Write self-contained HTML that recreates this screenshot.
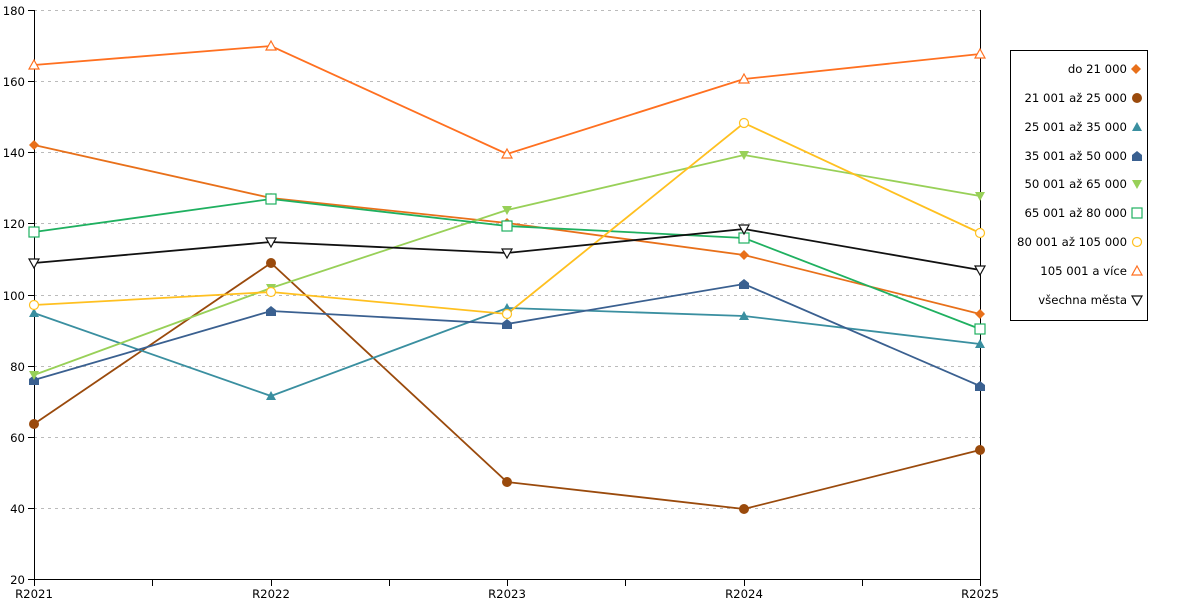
<!DOCTYPE html>
<html><head><meta charset="utf-8"><style>body{margin:0;background:#fff}svg{display:block;font-family:"DejaVu Sans","Liberation Sans",sans-serif}</style></head><body>
<svg width="1200" height="600" viewBox="0 0 1200 600" xmlns="http://www.w3.org/2000/svg">
<g stroke="#bbb" stroke-dasharray="3,4" stroke-width="1">
<line x1="34" x2="980" y1="10.5" y2="10.5"/><line x1="34" x2="980" y1="81.5" y2="81.5"/><line x1="34" x2="980" y1="152.5" y2="152.5"/><line x1="34" x2="980" y1="223.5" y2="223.5"/><line x1="34" x2="980" y1="295.5" y2="295.5"/><line x1="34" x2="980" y1="366.5" y2="366.5"/><line x1="34" x2="980" y1="437.5" y2="437.5"/><line x1="34" x2="980" y1="508.5" y2="508.5"/>
</g>
<g stroke="#000" stroke-width="1">
<line x1="34.5" y1="10" x2="34.5" y2="580"/><line x1="980.5" y1="10" x2="980.5" y2="586"/><line x1="34" y1="579.5" x2="981" y2="579.5"/>
<line x1="28" x2="34" y1="10.5" y2="10.5"/><line x1="28" x2="34" y1="81.5" y2="81.5"/><line x1="28" x2="34" y1="152.5" y2="152.5"/><line x1="28" x2="34" y1="223.5" y2="223.5"/><line x1="28" x2="34" y1="295.5" y2="295.5"/><line x1="28" x2="34" y1="366.5" y2="366.5"/><line x1="28" x2="34" y1="437.5" y2="437.5"/><line x1="28" x2="34" y1="508.5" y2="508.5"/><line x1="28" x2="34" y1="579.5" y2="579.5"/>
<line x1="34.5" x2="34.5" y1="580" y2="586"/><line x1="152.5" x2="152.5" y1="580" y2="586"/><line x1="271.5" x2="271.5" y1="580" y2="586"/><line x1="389.5" x2="389.5" y1="580" y2="586"/><line x1="507.5" x2="507.5" y1="580" y2="586"/><line x1="625.5" x2="625.5" y1="580" y2="586"/><line x1="744.5" x2="744.5" y1="580" y2="586"/><line x1="862.5" x2="862.5" y1="580" y2="586"/>
</g>
<g font-size="11.7" fill="#000" text-anchor="end">
<text x="25" y="15">180</text><text x="25" y="86">160</text><text x="25" y="157">140</text><text x="25" y="228">120</text><text x="25" y="300">100</text><text x="25" y="371">80</text><text x="25" y="442">60</text><text x="25" y="513">40</text><text x="25" y="584">20</text>
</g>
<g font-size="11.7" fill="#000" text-anchor="middle">
<text x="34" y="598">R2021</text><text x="271" y="598">R2022</text><text x="507" y="598">R2023</text><text x="744" y="598">R2024</text><text x="980" y="598">R2025</text>
</g>
<g fill="none" stroke-width="1.8">
<polyline stroke="#e8701a" points="34,145 271,198 507,223 744,255 980,314"/>
<polyline stroke="#9a4a0c" points="34,424 271,263 507,482 744,509 980,450"/>
<polyline stroke="#3a8fa0" points="34,313 271,396 507,308 744,316 980,344"/>
<polyline stroke="#3a6090" points="34,380 271,311 507,324 744,284 980,386"/>
<polyline stroke="#98d058" points="34,375 271,288 507,210 744,155 980,196"/>
<polyline stroke="#1fb060" points="34,232 271,199 507,226 744,238 980,329"/>
<polyline stroke="#ffc020" points="34,305 271,292 507,314 744,123 980,233"/>
<polyline stroke="#ff7020" points="34,65 271,46 507,154 744,79 980,54"/>
<polyline stroke="#111" points="34,263 271,242 507,253 744,229 980,270"/>
</g>
<defs>
<path id="dia" d="M0,-5 L5,0 L0,5 L-5,0Z"/>
<path id="tri" d="M0,-5 L5,4 L-5,4Z"/>
<path id="pent" d="M0,-5 L5,-1 L5,5 L-5,5 L-5,-1Z"/>
<path id="tdn" d="M-5,-4 L5,-4 L0,5Z"/>
</defs>
<g fill="#e8701a"><use href="#dia" x="34" y="145"/><use href="#dia" x="271" y="198"/><use href="#dia" x="507" y="223"/><use href="#dia" x="744" y="255"/><use href="#dia" x="980" y="314"/><use href="#dia" x="1136" y="69"/></g>
<g fill="#9a4a0c"><circle cx="34" cy="424" r="5"/><circle cx="271" cy="263" r="5"/><circle cx="507" cy="482" r="5"/><circle cx="744" cy="509" r="5"/><circle cx="980" cy="450" r="5"/><circle cx="1137" cy="98" r="5"/></g>
<g fill="#3a8fa0"><use href="#tri" x="34" y="313"/><use href="#tri" x="271" y="396"/><use href="#tri" x="507" y="308"/><use href="#tri" x="744" y="316"/><use href="#tri" x="980" y="344"/><use href="#tri" x="1137" y="127"/></g>
<g fill="#3a6090"><use href="#pent" x="34" y="380"/><use href="#pent" x="271" y="311"/><use href="#pent" x="507" y="324"/><use href="#pent" x="744" y="284"/><use href="#pent" x="980" y="386"/><use href="#pent" x="1137" y="156"/></g>
<g fill="#98d058"><use href="#tdn" x="34" y="375"/><use href="#tdn" x="271" y="288"/><use href="#tdn" x="507" y="210"/><use href="#tdn" x="744" y="155"/><use href="#tdn" x="980" y="196"/><use href="#tdn" x="1137" y="184"/></g>
<g fill="#fff" stroke="#1fb060" stroke-width="1.2"><rect x="29" y="227" width="10" height="10"/><rect x="266" y="194" width="10" height="10"/><rect x="502" y="221" width="10" height="10"/><rect x="739" y="233" width="10" height="10"/><rect x="975" y="324" width="10" height="10"/><rect x="1132" y="208" width="10" height="10"/></g>
<g fill="#fff" stroke="#ffc020" stroke-width="1.2"><circle cx="34" cy="305" r="4.5"/><circle cx="271" cy="292" r="4.5"/><circle cx="507" cy="314" r="4.5"/><circle cx="744" cy="123" r="4.5"/><circle cx="980" cy="233" r="4.5"/><circle cx="1137" cy="242" r="4.5"/></g>
<g fill="#fff" stroke="#ff7020" stroke-width="1.2"><use href="#tri" x="34" y="65"/><use href="#tri" x="271" y="46"/><use href="#tri" x="507" y="154"/><use href="#tri" x="744" y="79"/><use href="#tri" x="980" y="54"/><use href="#tri" x="1137" y="271"/></g>
<g fill="#fff" stroke="#111" stroke-width="1.2"><use href="#tdn" x="34" y="263"/><use href="#tdn" x="271" y="242"/><use href="#tdn" x="507" y="253"/><use href="#tdn" x="744" y="229"/><use href="#tdn" x="980" y="270"/><use href="#tdn" x="1137" y="300"/></g>
<rect x="1010.5" y="50.5" width="137" height="270" fill="none" stroke="#000"/>
<g font-size="11.7" fill="#000" text-anchor="end">
<text x="1127" y="73">do 21 000</text><text x="1127" y="102">21 001 až 25 000</text><text x="1127" y="131">25 001 až 35 000</text><text x="1127" y="160">35 001 až 50 000</text><text x="1127" y="188">50 001 až 65 000</text><text x="1127" y="217">65 001 až 80 000</text><text x="1127" y="246">80 001 až 105 000</text><text x="1127" y="275">105 001 a více</text><text x="1127" y="304">všechna města</text>
</g>
</svg>
</body></html>
